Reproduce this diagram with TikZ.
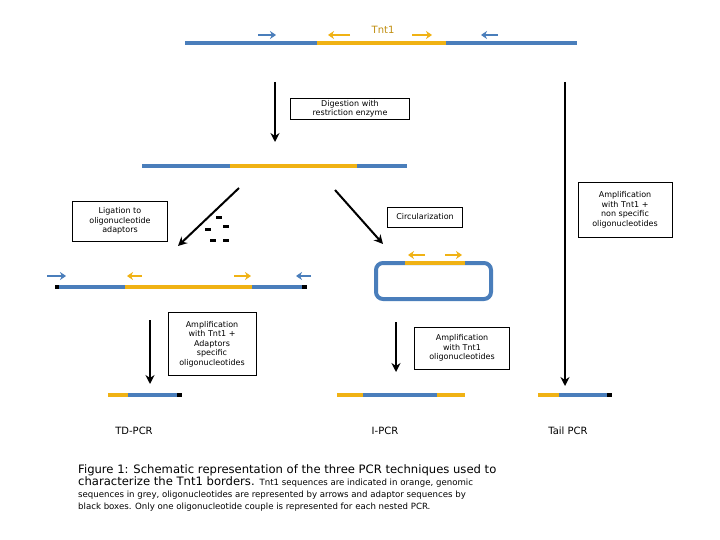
\documentclass[tikz,border=0pt]{standalone}
\usepackage{fontspec}
\setmainfont{DejaVu Sans}
\usetikzlibrary{arrows.meta}
\definecolor{dna}{RGB}{74,126,187}
\definecolor{tnt}{RGB}{240,178,20}
\begin{document}
\begin{tikzpicture}[x=1pt,y=-1pt,
 seq/.style={line width=4pt,dna},
 tn/.style={line width=4pt,tnt},
 adp/.style={line width=4pt,black},
 prim/.style={line width=2pt,-{Stealth[length=6pt,width=8pt]}},
 bp/.style={prim,dna},
 op/.style={prim,tnt},
 bigarr/.style={line width=2pt,-{Stealth[length=9pt,width=9pt]}},
 box/.style={draw,line width=0.6pt,align=center,font=\fontsize{8}{9.5}\selectfont,inner sep=2pt},
 lab/.style={font=\fontsize{10}{12}\selectfont}]
\useasboundingbox (0,0) rectangle (720,540);
% top
\draw[seq] (185,43) -- (577,43);
\draw[tn] (317,43) -- (446,43);
\draw[bp] (258,35) -- (276,35);
\draw[op] (350,35) -- (328,35);
\draw[op] (412,35) -- (432,35);
\draw[bp] (498,35) -- (481,35);
\node[lab,tnt!80!black] (tnt1) at (383,30) {Tnt1};
% digestion
\coordinate (a1s) at (275,82); \coordinate (a1e) at (275,142);
\draw[bigarr] (a1s) -- (a1e);
\node[box,text width=115pt] (dig) at (350,109) {Digestion with\\restriction enzyme};
\draw[seq] (142,166) -- (407,166);
\draw[tn] (230,166) -- (357,166);
% branches
\coordinate (a2s) at (239,188); \coordinate (a2e) at (178,246);
\draw[bigarr] (a2s) -- (a2e);
\coordinate (a3s) at (335,190); \coordinate (a3e) at (383,244);
\draw[bigarr] (a3s) -- (a3e);
\coordinate (a4s) at (565,82); \coordinate (a4e) at (565,386);
\draw[bigarr] (a4s) -- (a4e);
\node[box,minimum width=95pt,minimum height=40pt] (lig) at (120,221) {Ligation to\\oligonucleotide\\adaptors};
\node[box,minimum width=75pt,minimum height=20pt] (circ) at (425,217) {Circularization};
\node[box,minimum width=94pt,minimum height=55pt] (ns) at (625,210) {Amplification\\with Tnt1 +\\non specific\\oligonucleotides};
% adaptors
\foreach \p in {(219,218),(208,230),(226,227),(213,240),(226,240)}
  \fill \p +(-3,-1.5) rectangle +(3,1.5);
% ligated
\draw[seq] (55,287) -- (307,287);
\draw[tn] (125,287) -- (252,287);
\draw[adp] (55,287) -- (59,287);
\draw[adp] (302,287) -- (307,287);
\draw[bp] (47,276) -- (66,276);
\draw[op] (142,276) -- (127,276);
\draw[op] (234,276) -- (251,276);
\draw[bp] (311,276) -- (296,276);
% circle
\draw[seq,rounded corners=7pt] (376,263) rectangle (491,299);
\draw[tn] (405,263) -- (465,263);
\draw[op] (425,255) -- (408,255);
\draw[op] (445,255) -- (462,255);
% amplifications
\coordinate (a5s) at (150,320); \coordinate (a5e) at (150,384);
\draw[bigarr] (a5s) -- (a5e);
\node[box,minimum width=88pt,minimum height=63pt] (td) at (212,344) {Amplification\\with Tnt1 +\\Adaptors\\specific\\oligonucleotides};
\coordinate (a6s) at (396,322); \coordinate (a6e) at (396,372);
\draw[bigarr] (a6s) -- (a6e);
\node[box,minimum width=95pt,minimum height=42pt] (ip) at (462,348) {Amplification\\with Tnt1\\oligonucleotides};
% products
\draw[seq,line width=3.5pt] (108,395) -- (182,395);
\draw[tn,line width=3.5pt] (108,395) -- (128,395);
\draw[adp,line width=3.5pt] (177,395) -- (182,395);
\draw[seq,line width=3.5pt] (337,395) -- (465,395);
\draw[tn,line width=3.5pt] (337,395) -- (363,395);
\draw[tn,line width=3.5pt] (437,395) -- (465,395);
\draw[seq,line width=3.5pt] (538,395) -- (612,395);
\draw[tn,line width=3.5pt] (538,395) -- (559,395);
\draw[adp,line width=3.5pt] (607,395) -- (612,395);
\node[lab] (l1) at (134,431) {TD-PCR};
\node[lab] (l2) at (385,431) {I-PCR};
\node[lab] (l3) at (568,431) {Tail PCR};
% caption
\node[anchor=north west,align=left,inner sep=0pt] (cap) at (78,464) {%
\fontsize{11.6}{16}\selectfont Figure 1: Schematic representation of the three PCR techniques used to\\
\fontsize{11.6}{16}\selectfont characterize the Tnt1 borders. {\fontsize{8.6}{16}\selectfont Tnt1 sequences are indicated in orange, genomic}\\
\fontsize{8.6}{16}\selectfont sequences in grey, oligonucleotides are represented by arrows and adaptor sequences by\\
\fontsize{8.6}{16}\selectfont black boxes. Only one oligonucleotide couple is represented for each nested PCR.};
\end{tikzpicture}
\end{document}
